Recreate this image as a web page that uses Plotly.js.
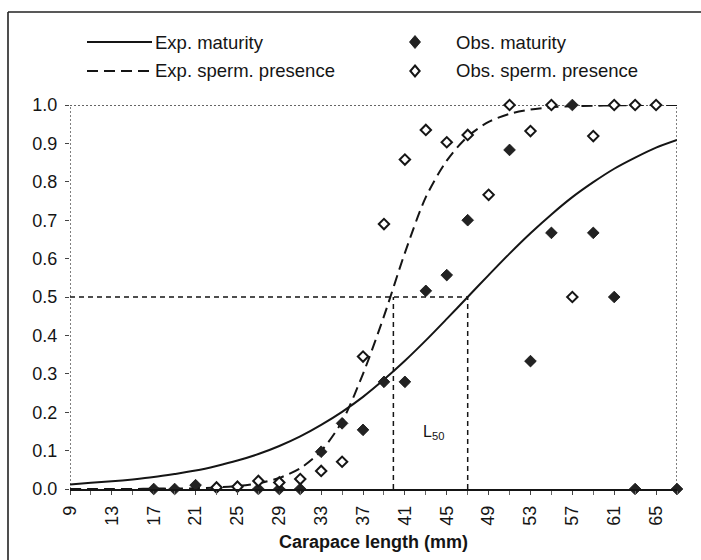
<!DOCTYPE html>
<html>
<head>
<meta charset="utf-8">
<script src="https://cdn.plot.ly/plotly-3.0.1.min.js"></script>
<style>
  html, body { margin: 0; padding: 0; background: #ffffff; }
  #chart { width: 701px; height: 560px; }
</style>
</head>
<body>
<div id="chart"></div>
<script>
// Carapace length classes (mm) at which the fitted ogives are tabulated
const lengthClasses = [9, 11, 13, 15, 17, 19, 21, 23, 25, 27, 29, 31, 33, 35, 37,
                       39, 41, 43, 45, 47, 49, 51, 53, 55, 57, 59, 61, 63, 65, 67];
// Fitted proportion mature
const expMaturity = [0.012, 0.016, 0.020, 0.025, 0.031, 0.039, 0.048, 0.060, 0.074, 0.091,
                     0.112, 0.137, 0.167, 0.201, 0.240, 0.285, 0.334, 0.387, 0.443, 0.500,
                     0.557, 0.613, 0.666, 0.715, 0.760, 0.799, 0.834, 0.863, 0.889, 0.909];
// Fitted proportion with sperm present
const expSpermPresence = [0.000, 0.000, 0.000, 0.000, 0.001, 0.001, 0.002, 0.004, 0.008, 0.015,
                          0.029, 0.054, 0.099, 0.176, 0.300, 0.450, 0.615, 0.760, 0.855, 0.918,
                          0.956, 0.977, 0.988, 0.994, 0.997, 0.998, 0.999, 1.000, 1.000, 1.000];

// Observed proportion mature per length class
const obsMaturityLength = [17, 19, 21, 27, 29, 31, 33, 35, 37, 39, 41, 43, 45, 47,
                           51, 53, 55, 57, 59, 61, 63, 67];
const obsMaturity = [0, 0, 0.01, 0, 0, 0, 0.097, 0.171, 0.154, 0.279, 0.279, 0.516, 0.557, 0.70,
                     0.883, 0.333, 0.667, 1.0, 0.667, 0.5, 0, 0];

// Observed proportion with sperm present per length class
const obsSpermLength = [23, 25, 27, 29, 31, 33, 35, 37, 39, 41, 43, 45, 47, 49,
                        51, 53, 55, 57, 59, 61, 63, 65];
const obsSpermPresence = [0.004, 0.006, 0.021, 0.017, 0.026, 0.047, 0.071, 0.345, 0.69, 0.858,
                          0.935, 0.903, 0.922, 0.766, 1.0, 0.932, 1.0, 0.5, 0.919, 1.0, 1.0, 1.0];

// Axis ticks
const xTickLabels = [9, 13, 17, 21, 25, 29, 33, 37, 41, 45, 49, 53, 57, 61, 65];
const yTickLabels = [0, 0.1, 0.2, 0.3, 0.4, 0.5, 0.6, 0.7, 0.8, 0.9, 1.0];

// Length at 50 % for each ogive
const L50_MATURITY = 47;
const L50_SPERM = 39.9;
const HALF = 0.5;

// ---------------------------------------------------------------------------
const W = 701, H = 560;
const M = { l: 70, r: 24, t: 105, b: 71 };
const PW = W - M.l - M.r, PH = H - M.t - M.b;
const px = x => (x - M.l) / PW;          // page pixel -> paper x
const py = y => (H - M.b - y) / PH;      // page pixel -> paper y

const INK = '#151515';
const FONT = 'Liberation Sans, Arial, Helvetica, sans-serif';
const CURVE_DASH = '11px,6px';
const X0 = lengthClasses[0], X1 = lengthClasses[lengthClasses.length - 1];

const traces = [
  {
    x: lengthClasses, y: expMaturity, name: 'Exp. maturity',
    mode: 'lines', line: { color: INK, width: 2, shape: 'spline', smoothing: 0.8 },
    hoverinfo: 'x+y'
  },
  {
    x: lengthClasses, y: expSpermPresence, name: 'Exp. sperm. presence',
    mode: 'lines', line: { color: INK, width: 2, dash: CURVE_DASH, shape: 'spline', smoothing: 0.8 },
    hoverinfo: 'x+y'
  },
  {
    x: obsMaturityLength, y: obsMaturity, name: 'Obs. maturity',
    mode: 'markers', cliponaxis: false,
    marker: { symbol: 'diamond', size: 9, color: '#222222', line: { color: '#111', width: 0.8 } }
  },
  {
    x: obsSpermLength, y: obsSpermPresence, name: 'Obs. sperm. presence',
    mode: 'markers', cliponaxis: false,
    marker: { symbol: 'diamond', size: 8, color: '#ffffff', line: { color: INK, width: 2 } }
  }
];

// Guide lines of the plot frame and the L50 read-off
const guide = (x0, y0, x1, y1, dash, width, color) => ({
  type: 'line', xref: 'x', yref: 'y', x0, y0, x1, y1, layer: 'below',
  line: { color: color || INK, width: width || 1.5, dash }
});

const shapes = [
  guide(X0, 0, X0, 1, '2px,2px', 1.5, '#555'),
  guide(X0, 1, X1, 1, '2px,2px', 1.5, '#333'),
  guide(X1, 0, X1, 1, '2px,2px', 1.5, '#555'),
  guide(X0, HALF, L50_MATURITY, HALF, '5px,4px', 1.5),
  guide(L50_SPERM, 0, L50_SPERM, HALF, '5px,4px', 1.5),
  guide(L50_MATURITY, 0, L50_MATURITY, HALF, '5px,4px', 1.5)
];

// Outer frame
shapes.push({ type: 'line', xref: 'paper', yref: 'paper', x0: px(8), x1: px(8), y0: py(12), y1: py(H + 5),
              line: { color: '#222', width: 1.6 } });
shapes.push({ type: 'line', xref: 'paper', yref: 'paper', x0: px(8), x1: px(W + 5), y0: py(12), y1: py(12),
              line: { color: '#222', width: 1.6 } });

// Key
const ROW1 = 42, ROW2 = 71;
const keyLine = (y, dash) => ({
  type: 'line', xref: 'paper', yref: 'paper', x0: px(87), x1: px(152), y0: py(y), y1: py(y),
  line: { color: INK, width: 2, dash }
});
const keyDiamond = (cx, cy, r, fill, lw) => ({
  type: 'path', xref: 'paper', yref: 'paper',
  path: `M${px(cx)},${py(cy - r)} L${px(cx + r * 0.85)},${py(cy)} L${px(cx)},${py(cy + r)} L${px(cx - r * 0.85)},${py(cy)} Z`,
  fillcolor: fill, line: { color: INK, width: lw }
});
shapes.push(keyLine(ROW1));
shapes.push(keyLine(ROW2, CURVE_DASH));
shapes.push(keyDiamond(415, ROW1, 6.5, '#222222', 0.8));
shapes.push(keyDiamond(415, ROW2, 5.5, '#ffffff', 2));

const keyText = (x, y, text) => ({
  xref: 'paper', yref: 'paper', x: px(x), y: py(y), xanchor: 'left', yanchor: 'middle',
  text, showarrow: false, font: { family: FONT, size: 18.5, color: INK }
});

const annotations = [
  keyText(153, ROW1, 'Exp. maturity'),
  keyText(153, ROW2, 'Exp. sperm. presence'),
  keyText(454, ROW1, 'Obs. maturity'),
  keyText(454, ROW2, 'Obs. sperm. presence'),
  {
    xref: 'x', yref: 'y', x: 43.7, y: 0.146, text: 'L<sub>50</sub>', showarrow: false,
    font: { family: FONT, size: 16, color: INK }
  }
];

const layout = {
  width: W, height: H,
  margin: M,
  paper_bgcolor: '#ffffff', plot_bgcolor: '#ffffff',
  showlegend: false,
  font: { family: FONT, size: 18, color: INK },
  xaxis: {
    range: [X0, X1], tickvals: xTickLabels, tickangle: -90,
    showgrid: false, zeroline: false,
    showline: true, linecolor: INK, linewidth: 1.5,
    ticks: 'outside', ticklen: 4, tickwidth: 1, tickcolor: '#444',
    ticklabelstandoff: 4,
    minor: { tick0: X0, dtick: 2, ticks: 'outside', ticklen: 4, tickcolor: '#666', showgrid: false },
    tickfont: { family: FONT, size: 18, color: INK },
    title: { text: '<b>Carapace length (mm)</b>', standoff: 10,
             font: { family: FONT, size: 18, color: INK } }
  },
  yaxis: {
    range: [0, 1], tickvals: yTickLabels, tickformat: '.1f',
    showgrid: false, zeroline: false, showline: false,
    ticks: 'outside', ticklen: 4, tickwidth: 1, tickcolor: '#444',
    ticklabelstandoff: 4,
    tickfont: { family: FONT, size: 18, color: INK }
  },
  shapes, annotations
};

Plotly.newPlot('chart', traces, layout, { displayModeBar: false, staticPlot: true });
</script>
</body>
</html>
